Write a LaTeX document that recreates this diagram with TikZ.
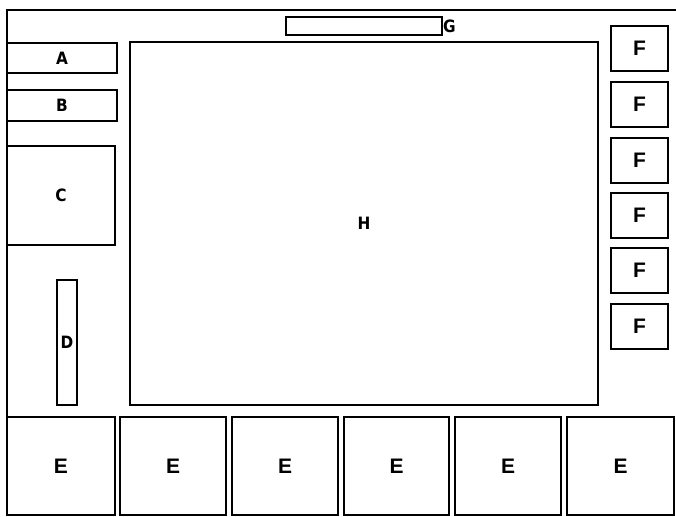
\documentclass[tikz,border=0pt]{standalone}
\usepackage{fontspec}
\newfontfamily\condfont{DejaVu Sans Condensed}
\newfontfamily\boldfont{Liberation Sans}
\begin{document}
\begin{tikzpicture}[x=1pt,y=-1pt,
  box/.style={draw=black,line width=2.3pt,inner sep=0pt,outer sep=0pt,anchor=north west},
  smlab/.style={font=\condfont\bfseries\fontsize{17}{17}\selectfont},
  biglab/.style={font=\boldfont\bfseries\fontsize{21}{21}\selectfont}]
\useasboundingbox (0,0) rectangle (676,516);
% outer frame
\coordinate (tl) at (7,10);
\coordinate (tr) at (676,10);
\coordinate (bl) at (7,516);
\draw[line width=2.8pt] (bl) -- (tl) -- (tr);
% G bar
\node[box,minimum width=156pt,minimum height=18pt] (g) at (286,17) {};
\node[smlab,anchor=west,inner sep=1pt] (glab) at (g.east) {G};
% left column
\node[box,minimum width=110pt,minimum height=30pt,smlab] (a) at (7,43) {A};
\node[box,minimum width=110pt,minimum height=31pt,smlab] (b) at (7,90) {B};
\node[box,minimum width=108pt,minimum height=99pt,smlab] (c) at (7,146) {C};
\node[box,minimum width=20pt,minimum height=125pt,smlab] (d) at (57,280) {D};
% main area
\node[box,minimum width=468pt,minimum height=363pt,smlab] (h) at (130,42) {H};
% right column
\foreach \i/\y in {1/26,2/82,3/138,4/193,5/248,6/304}{
  \node[box,minimum width=57pt,minimum height=45pt,biglab] (f\i) at (611,\y) {F};
}
% bottom row
\foreach \i/\x/\w in {1/7/108,2/120/106,3/232/106,4/344/105,5/455/106,6/567/107}{
  \node[box,minimum width=\w pt,minimum height=98pt,biglab] (e\i) at (\x,417) {E};
}
\end{tikzpicture}
\end{document}
